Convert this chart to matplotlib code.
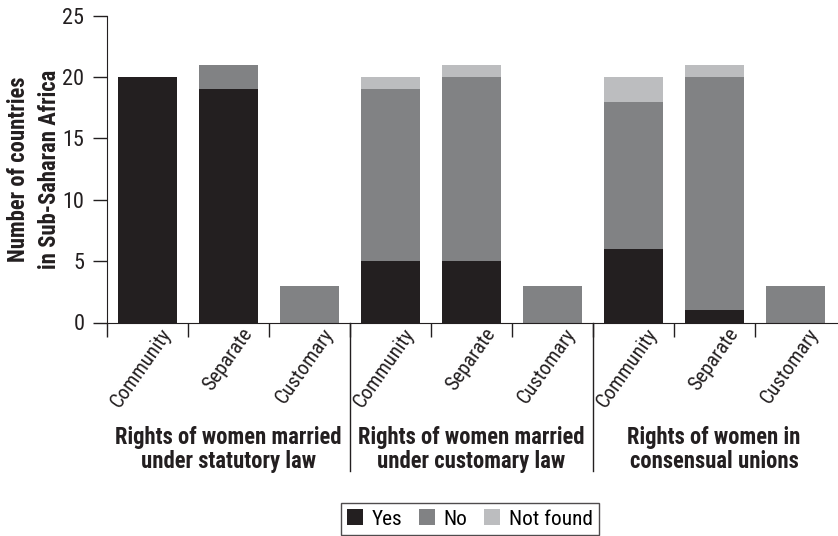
import numpy as np
import matplotlib.pyplot as plt
from matplotlib import font_manager
from matplotlib.font_manager import FontProperties

# find a condensed sans face, if any is installed
def find_face(bold):
    best = None
    for f in font_manager.fontManager.ttflist:
        w = f.weight if isinstance(f.weight, int) else (700 if 'bold' in str(f.weight) else 400)
        if (w >= 600) != bold or f.style != 'normal':
            continue
        narrow = ('Narrow' in f.name or 'Condensed' in f.name
                  or str(f.stretch) in ('condensed', 'semi-condensed', 'extra-condensed'))
        if not narrow:
            continue
        rank = 0 if 'Liberation' in f.name else (1 if 'Roboto' in f.name else 2)
        if str(f.stretch) == 'extra-condensed':
            rank += 5
        if best is None or rank < best[0]:
            best = (rank, f.fname)
    return best[1] if best else None

reg_file = find_face(False)
bold_file = find_face(True)
fp_reg = FontProperties(fname=reg_file) if reg_file else FontProperties(family='Liberation Sans')
fp_bold = FontProperties(fname=bold_file) if bold_file else FontProperties(family='Liberation Sans', weight='bold')
scale = 1.0 if reg_file else 0.88

# data
groups = ["Rights of women married\nunder statutory law",
          "Rights of women married\nunder customary law",
          "Rights of women in\nconsensual unions"]
cats = ["Community", "Separate", "Customary"] * 3
yes = [20, 19, 0, 5, 5, 0, 6, 1, 0]
no = [0, 2, 3, 14, 15, 3, 12, 19, 3]
not_found = [0, 0, 0, 1, 1, 0, 2, 1, 0]
yticks = [0, 5, 10, 15, 20, 25]

c_yes = '#231f20'; c_no = '#818284'; c_nf = '#bcbdbf'; ink = '#231f20'

fig = plt.figure(figsize=(8.38, 5.36), dpi=100)
ax = fig.add_axes([106.7/838, 1 - 322.5/536, 1 - 106.7/838, (322.5 - 15.7)/536])

x = np.arange(len(cats)) + 0.5
yes = np.array(yes); no = np.array(no); not_found = np.array(not_found)
ax.bar(x, yes, width=0.73, color=c_yes, label='Yes')
ax.bar(x, no, width=0.73, bottom=yes, color=c_no, label='No')
ax.bar(x, not_found, width=0.73, bottom=yes + no, color=c_nf, label='Not found')

ax.set_xlim(0, 9.03)
ax.set_ylim(0, 25)
ax.set_yticks(yticks)
ax.tick_params(axis='y', length=10, width=1, pad=6, colors=ink)
for t in ax.get_yticklabels():
    t.set_fontproperties(fp_reg.copy())
    t.set_fontsize(16 * scale)
ax.set_xticks(np.arange(0, 9))
ax.set_xticklabels([])
ax.tick_params(axis='x', length=10, width=1, colors=ink)
for s in ['top', 'right']:
    ax.spines[s].set_visible(False)
for s in ['left', 'bottom']:
    ax.spines[s].set_color(ink)

# category labels, rotated
trans = ax.get_xaxis_transform()
for xi, lab in zip(x, cats):
    ax.text(xi + 0.25, -0.025, lab, transform=trans, rotation=55, rotation_mode='anchor',
            ha='right', va='center', fontproperties=fp_reg, fontsize=14.7 * scale, color=ink)

# group separators
for b in [3, 6]:
    ax.plot([b, b], [0, -0.483], transform=trans, color=ink, lw=1, clip_on=False)

# group labels
for i, g in enumerate(groups):
    ax.text(1.5 + 3 * i, -0.414, g, transform=trans, ha='center', va='center',
            fontproperties=fp_bold, fontsize=16.3 * scale, color=ink, linespacing=1.05)

# y axis title
fig.text(34/838, 1 - 169/536, "Number of countries\nin Sub-Saharan Africa", rotation=90,
         ha='center', va='center', fontproperties=fp_bold, fontsize=16.3 * scale,
         color=ink, linespacing=1.45)

leg_fp = fp_reg.copy()
leg_fp.set_size(15.3 * scale)
leg = fig.legend(loc='center', bbox_to_anchor=(470/838, 1 - 519/536), ncol=3, prop=leg_fp,
                 frameon=True, fancybox=False, edgecolor=ink, handlelength=0.75,
                 handleheight=0.75, handletextpad=0.4, columnspacing=0.8, borderpad=0.3)
leg.get_frame().set_linewidth(1)

fig.savefig('out.png', dpi=100)
